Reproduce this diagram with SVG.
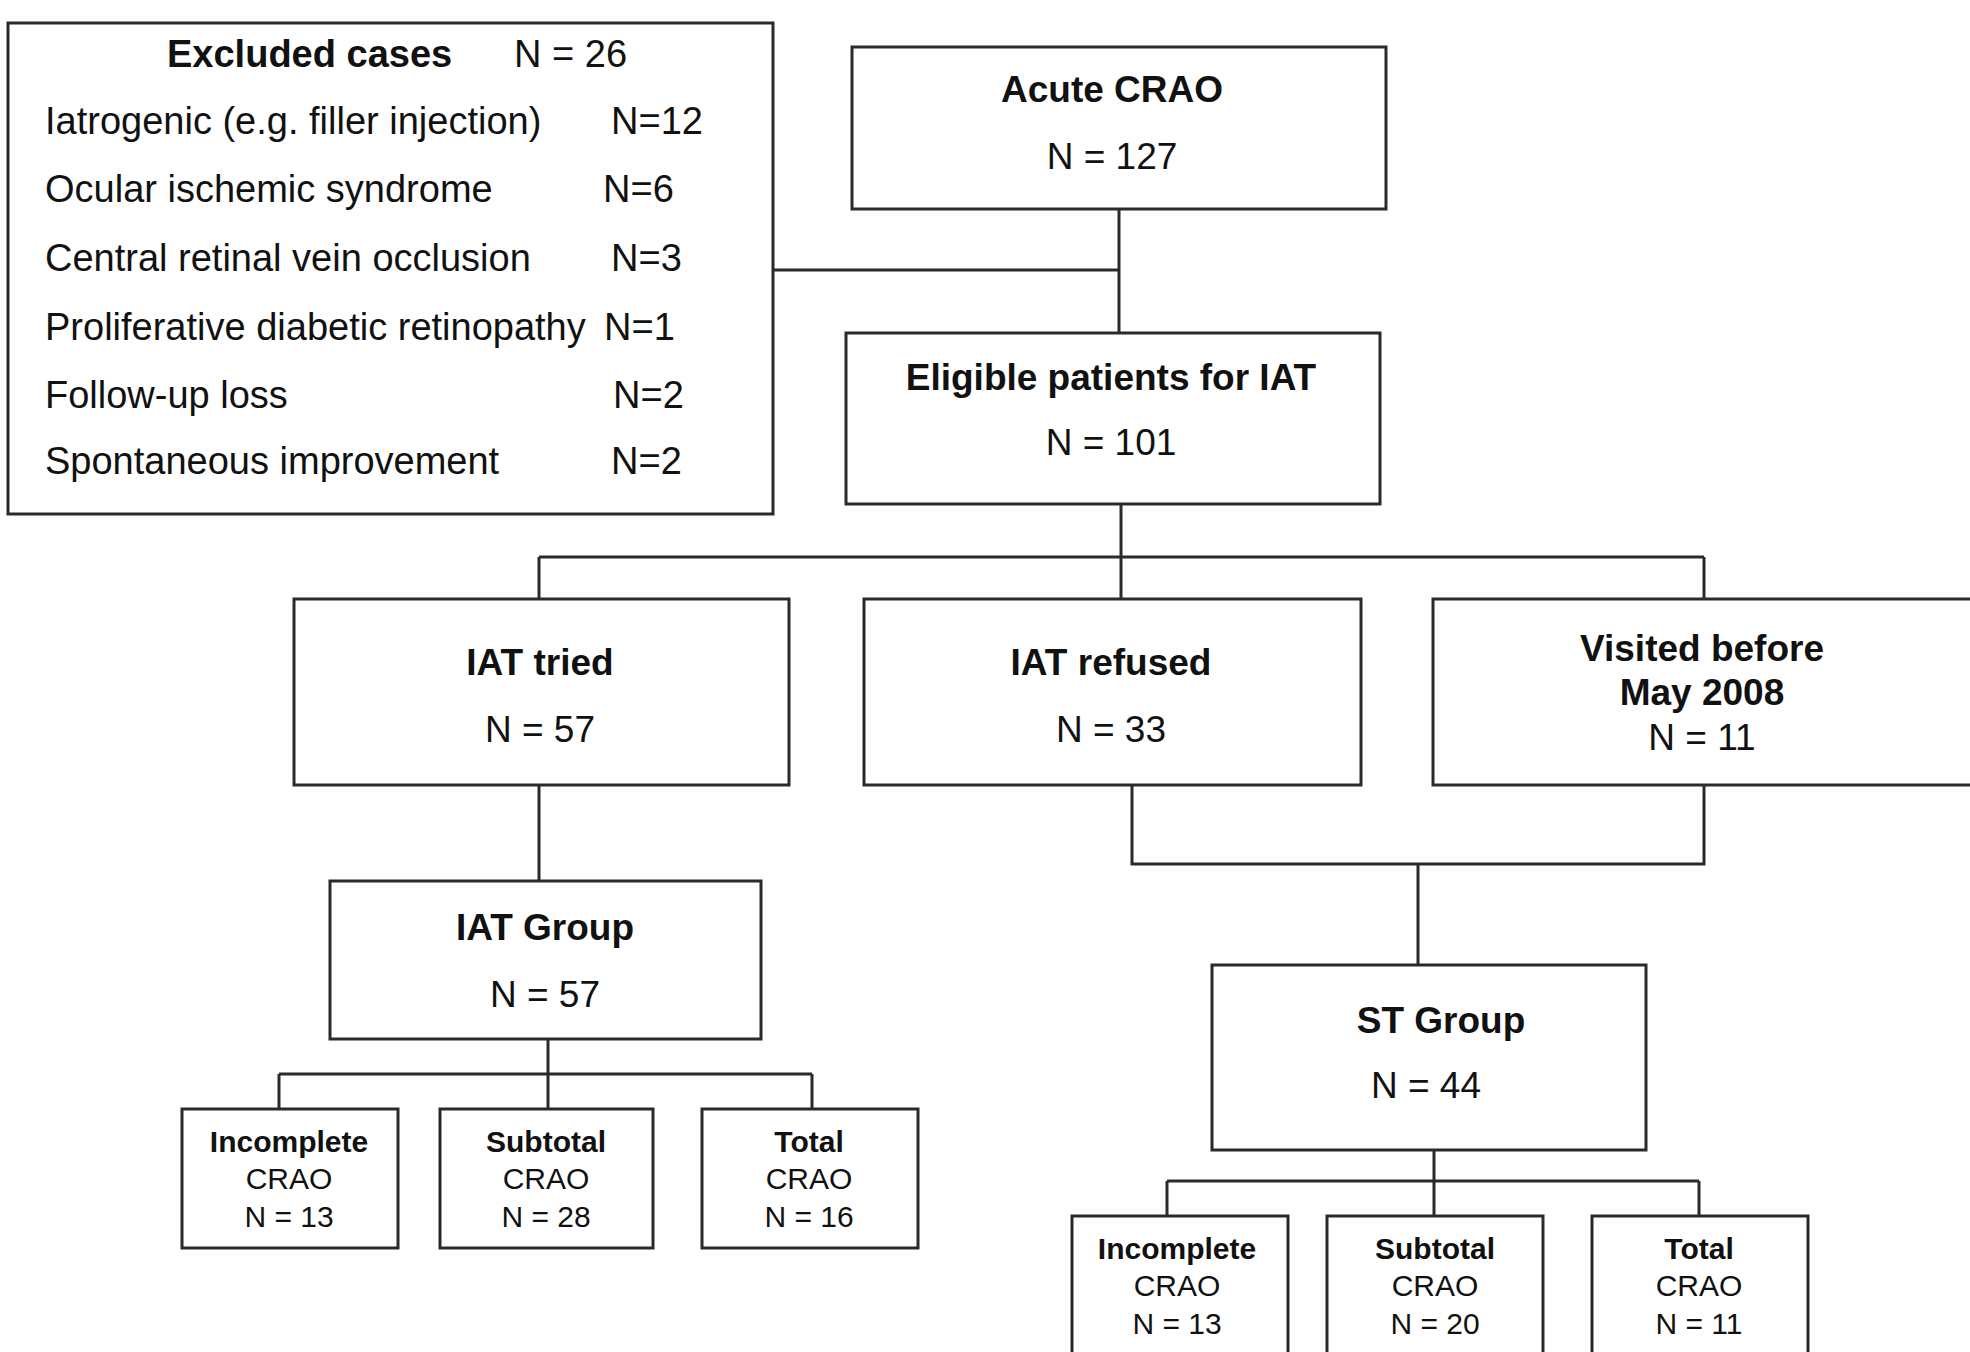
<svg xmlns="http://www.w3.org/2000/svg" width="1970" height="1352" viewBox="0 0 1970 1352">
<style>
.box{fill:#fff;stroke:#2a2a2a;stroke-width:3}
.ln{fill:none;stroke:#2a2a2a;stroke-width:3}
text{font-family:"Liberation Sans",Arial,sans-serif;fill:#111}
.t{font-size:37px;text-anchor:middle}
.b{font-weight:bold}
.r{font-size:38px}
.s{font-size:30px;text-anchor:middle}
</style>
<rect width="1970" height="1352" fill="#fff"/>
<g id="connectors">
<path class="ln" d="M773 270 H1119 M1119 208 V333"/>
<path class="ln" d="M1121 504 V599 M539 557 H1704 M539 557 V599 M1704 557 V599"/>
<path class="ln" d="M539 785 V881"/>
<path class="ln" d="M1132 785 V864 H1704 V785 M1418 864 V965"/>
<path class="ln" d="M548 1039 V1109 M279 1074 H812 M279 1074 V1109 M812 1074 V1109"/>
<path class="ln" d="M1434 1150 V1216 M1167 1181 H1699 M1167 1181 V1216 M1699 1181 V1216"/>
</g>
<g id="excluded">
<rect class="box" x="8" y="23" width="765" height="491"/>
<text class="r b" x="167" y="67">Excluded cases</text>
<text class="r" x="514" y="67">N = 26</text>
<text class="r" x="45" y="134">Iatrogenic (e.g. filler injection)</text>
<text class="r" x="611" y="134">N=12</text>
<text class="r" x="45" y="202">Ocular ischemic syndrome</text>
<text class="r" x="603" y="202">N=6</text>
<text class="r" x="45" y="271">Central retinal vein occlusion</text>
<text class="r" x="611" y="271">N=3</text>
<text class="r" x="45" y="340">Proliferative diabetic retinopathy</text>
<text class="r" x="604" y="340">N=1</text>
<text class="r" x="45" y="408">Follow-up loss</text>
<text class="r" x="613" y="408">N=2</text>
<text class="r" x="45" y="474">Spontaneous improvement</text>
<text class="r" x="611" y="474">N=2</text>
</g>
<g id="acute">
<rect class="box" x="852" y="47" width="534" height="162"/>
<text class="t b" x="1112" y="102">Acute CRAO</text>
<text class="t" x="1112" y="169">N = 127</text>
</g>
<g id="eligible">
<rect class="box" x="846" y="333" width="534" height="171"/>
<text class="t b" x="1111" y="390">Eligible patients for IAT</text>
<text class="t" x="1111" y="455">N = 101</text>
</g>
<g id="iat-tried">
<rect class="box" x="294" y="599" width="495" height="186"/>
<text class="t b" x="540" y="675">IAT tried</text>
<text class="t" x="540" y="742">N = 57</text>
</g>
<g id="iat-refused">
<rect class="box" x="864" y="599" width="497" height="186"/>
<text class="t b" x="1111" y="675">IAT refused</text>
<text class="t" x="1111" y="742">N = 33</text>
</g>
<g id="visited">
<rect class="box" x="1433" y="599" width="540" height="186"/>
<text class="t b" x="1702" y="661">Visited before</text>
<text class="t b" x="1702" y="705">May 2008</text>
<text class="t" x="1702" y="750">N = 11</text>
</g>
<g id="iat-group">
<rect class="box" x="330" y="881" width="431" height="158"/>
<text class="t b" x="545" y="940">IAT Group</text>
<text class="t" x="545" y="1007">N = 57</text>
</g>
<g id="st-group">
<rect class="box" x="1212" y="965" width="434" height="185"/>
<text class="t b" x="1441" y="1033">ST Group</text>
<text class="t" x="1426" y="1098">N = 44</text>
</g>
<g id="iat-incomplete">
<rect class="box" x="182" y="1109" width="216" height="139"/>
<text class="s b" x="289" y="1152">Incomplete</text>
<text class="s" x="289" y="1189">CRAO</text>
<text class="s" x="289" y="1227">N = 13</text>
</g>
<g id="iat-subtotal">
<rect class="box" x="440" y="1109" width="213" height="139"/>
<text class="s b" x="546" y="1152">Subtotal</text>
<text class="s" x="546" y="1189">CRAO</text>
<text class="s" x="546" y="1227">N = 28</text>
</g>
<g id="iat-total">
<rect class="box" x="702" y="1109" width="216" height="139"/>
<text class="s b" x="809" y="1152">Total</text>
<text class="s" x="809" y="1189">CRAO</text>
<text class="s" x="809" y="1227">N = 16</text>
</g>
<g id="st-incomplete">
<rect class="box" x="1072" y="1216" width="216" height="150"/>
<text class="s b" x="1177" y="1259">Incomplete</text>
<text class="s" x="1177" y="1296">CRAO</text>
<text class="s" x="1177" y="1334">N = 13</text>
</g>
<g id="st-subtotal">
<rect class="box" x="1327" y="1216" width="216" height="150"/>
<text class="s b" x="1435" y="1259">Subtotal</text>
<text class="s" x="1435" y="1296">CRAO</text>
<text class="s" x="1435" y="1334">N = 20</text>
</g>
<g id="st-total">
<rect class="box" x="1592" y="1216" width="216" height="150"/>
<text class="s b" x="1699" y="1259">Total</text>
<text class="s" x="1699" y="1296">CRAO</text>
<text class="s" x="1699" y="1334">N = 11</text>
</g>
</svg>
